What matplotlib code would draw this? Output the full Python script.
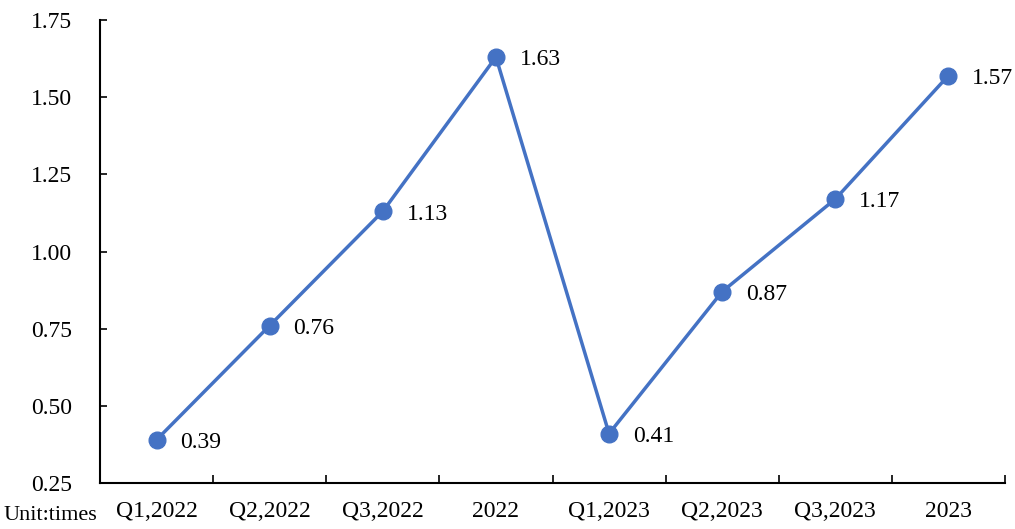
import numpy as np
import matplotlib.pyplot as plt
from matplotlib.ticker import FixedLocator, NullFormatter

plt.rcParams["font.family"] = ["Liberation Serif", "DejaVu Serif"]

categories = ["Q1,2022", "Q2,2022", "Q3,2022", "2022",
              "Q1,2023", "Q2,2023", "Q3,2023", "2023"]
values = [0.39, 0.76, 1.13, 1.63, 0.41, 0.87, 1.17, 1.57]
y_ticks = [0.25, 0.50, 0.75, 1.00, 1.25, 1.50, 1.75]

COLOR = "#4472C4"
FS = 17

fig = plt.figure(figsize=(10.15, 5.29), dpi=100)
ax = fig.add_axes([100 / 1015, 1 - 483 / 529, 905 / 1015, 463 / 529])

x = np.arange(len(categories))
ax.plot(x, values, color=COLOR, linewidth=2.5, marker="o",
        markersize=12, zorder=3)

for xi, v in zip(x, values):
    ax.annotate(f"{v:.2f}", (xi, v), xytext=(17, -2), textcoords="offset points",
                fontsize=FS, ha="left", va="center")

ax.set_xlim(-0.5, len(categories) - 0.5)
ax.set_ylim(0.25, 1.75)

# y axis
ax.set_yticks(y_ticks)
ax.set_yticklabels([f"{t:.2f}" for t in y_ticks], fontsize=FS)
ax.tick_params(axis="y", direction="in", length=5, width=1.2, pad=20)

# x axis: boundary ticks, labels centred between them
ax.xaxis.set_major_locator(FixedLocator(np.arange(0.5, len(categories), 1.0)))
ax.xaxis.set_major_formatter(NullFormatter())
ax.xaxis.set_minor_locator(FixedLocator(x))
ax.set_xticklabels(categories, minor=True, fontsize=FS)
ax.tick_params(axis="x", which="major", direction="in", length=6, width=1.2)
ax.tick_params(axis="x", which="minor", length=0, pad=13)

ax.spines[["top", "right"]].set_visible(False)
for s in ["left", "bottom"]:
    ax.spines[s].set_linewidth(1.5)

fig.text(4 / 1015, 1 - 516 / 529, "Unit:times", fontsize=16, ha="left", va="center")

fig.savefig("out.png", dpi=100)
